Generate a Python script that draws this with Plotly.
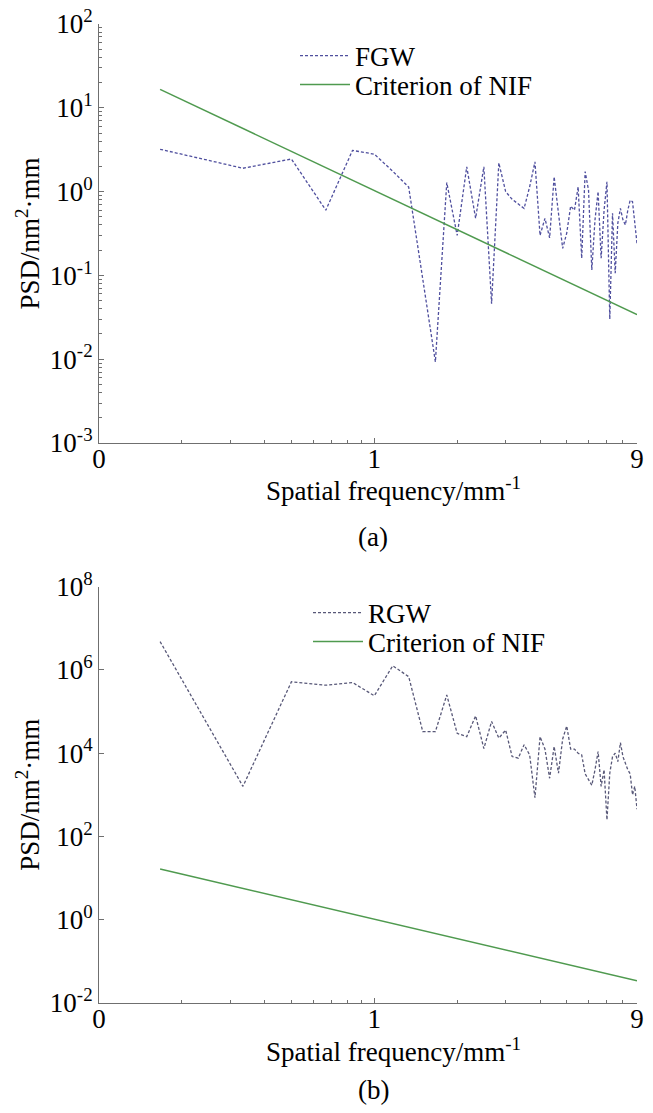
import plotly.graph_objects as go

# ---------------- data ----------------
spatial_freq = [0.1667, 0.3333, 0.5, 0.6667, 0.8333, 1.0, 1.1667, 1.3333, 1.5, 1.6667,
                1.8333, 2.0, 2.1667, 2.3333, 2.5, 2.6667, 2.8333, 3.0, 3.1667, 3.3333,
                3.5, 3.6667, 3.8333, 4.0, 4.1667, 4.3333, 4.5, 4.6667, 4.8333, 5.0,
                5.1667, 5.3333, 5.5, 5.6667, 5.8333, 6.0, 6.1667, 6.3333, 6.5, 6.6667,
                6.8333, 7.0, 7.1667, 7.3333, 7.5, 7.6667, 7.8333, 8.0, 8.1667, 8.3333,
                8.5, 8.6667, 8.8333, 9.0]

fgw_psd = [3.2, 1.9, 2.45, 0.60, 3.1, 2.8, 1.75, 1.13, 0.09, 0.0093,
           1.28, 0.30, 1.98, 0.48, 1.98, 0.046, 2.2, 1.0, 0.81, 0.72,
           0.63, 1.14, 2.27, 0.30, 0.48, 0.28, 1.5, 0.55, 0.21, 0.32,
           0.67, 0.60, 1.14, 0.16, 1.73, 1.04, 0.116, 0.46, 1.0, 0.16,
           0.60, 1.31, 0.030, 0.55, 0.106, 0.42, 0.63, 0.46, 0.40, 0.60,
           0.79, 0.76, 0.46, 0.24]

rgw_psd = [4.8e6, 1.6e3, 5.2e5, 4.3e5, 5.0e5, 2.4e5, 1.26e6, 6.9e5, 3.3e4, 3.3e4,
           2.5e5, 3.0e4, 2.5e4, 7.9e4, 1.3e4, 5.8e4, 2.3e4, 3.6e4, 8.3e3, 7.6e3,
           1.6e4, 9.1e3, 850, 2.5e4, 1.26e4, 2.5e3, 1.45e4, 3.3e3, 2.2e4, 4.5e4,
           1.26e4, 1.26e4, 1.0e4, 9.1e3, 3.2e3, 2.3e3, 1.7e3, 4.0e3, 1.1e4, 1.6e3,
           4.0e3, 250, 3.3e3, 8.3e3, 1.0e4, 6.3e3, 1.8e4, 8.3e3, 5.8e3, 4.0e3,
           3.2e3, 1.0e3, 1.6e3, 450]

nif_freq = [0.1667, 9.0]
nif_psd = [16.6, 0.034]

x_tickvals = [0.1, 1, 9]
x_ticktext = ["0", "1", "9"]
x_minorvals = [0.2, 0.3, 0.4, 0.5, 0.6, 0.7, 0.8, 0.9, 2, 3, 4, 5, 6, 7, 8]

ya_tickvals = [1e-3, 1e-2, 1e-1, 1, 10, 100]
ya_ticktext = ["10<sup>-3</sup>", "10<sup>-2</sup>", "10<sup>-1</sup>",
               "10<sup>0</sup>", "10<sup>1</sup>", "10<sup>2</sup>"]
ya_minorvals = [m * d for d in [1e-3, 1e-2, 1e-1, 1, 10] for m in range(2, 10)]

yb_tickvals = [1e-2, 1, 1e2, 1e4, 1e6, 1e8]
yb_ticktext = ["10<sup>-2</sup>", "10<sup>0</sup>", "10<sup>2</sup>",
               "10<sup>4</sup>", "10<sup>6</sup>", "10<sup>8</sup>"]

# ---------------- styling ----------------
FONT = "Liberation Serif, Times New Roman, serif"
FS = 27
AX = "#6f6f6f"
FGW_C = "#4f4f9e"
RGW_C = "#585878"
NIF_C = "#4f9a4f"
DASH = "3px,2px"

fig = go.Figure()

fig.add_trace(go.Scatter(x=spatial_freq, y=fgw_psd, mode="lines", name="FGW",
                         line=dict(color=FGW_C, width=1.3, dash=DASH),
                         xaxis="x", yaxis="y", legend="legend"))
fig.add_trace(go.Scatter(x=nif_freq, y=nif_psd, mode="lines", name="Criterion of NIF",
                         line=dict(color=NIF_C, width=1.5),
                         xaxis="x", yaxis="y", legend="legend2"))
fig.add_trace(go.Scatter(x=spatial_freq, y=rgw_psd, mode="lines", name="RGW",
                         line=dict(color=RGW_C, width=1.3, dash=DASH),
                         xaxis="x2", yaxis="y2", legend="legend3"))
fig.add_trace(go.Scatter(x=nif_freq, y=nif_psd, mode="lines", name="Criterion of NIF",
                         line=dict(color=NIF_C, width=1.5),
                         xaxis="x2", yaxis="y2", legend="legend4"))

W, H = 653, 1113
ML, MR, MT, MB = 99, 16, 24, 110
PH = H - MT - MB


def py(Y):
    return (H - MB - Y) / PH


def px(X):
    return (X - ML) / (W - ML - MR)


xcommon = dict(type="log", range=[-1, 0.9542], showgrid=False, zeroline=False,
               showline=True, linecolor=AX, linewidth=1, mirror=False, automargin=False,
               ticks="inside", ticklen=5, tickcolor=AX, tickwidth=1, ticklabelstandoff=-8,
               tickmode="array", tickvals=x_tickvals, ticktext=x_ticktext,
               tickfont=dict(family=FONT, size=FS, color="black"),
               minor=dict(tickmode="array", tickvals=x_minorvals, ticks="inside",
                          ticklen=3, tickcolor=AX, tickwidth=1, showgrid=False))

ycommon = dict(type="log", showgrid=False, zeroline=False, showline=True, automargin=False,
               linecolor=AX, linewidth=1, mirror=False, ticks="inside", ticklen=5,
               tickcolor=AX, tickwidth=1, tickmode="array",
               tickfont=dict(family=FONT, size=FS, color="black"),
               title=dict(text="PSD/nm<sup>2</sup>·mm", font=dict(family=FONT, size=FS, color="black"),
                          standoff=2))

legcommon = dict(font=dict(family=FONT, size=FS, color="black"), bgcolor="rgba(0,0,0,0)",
                 borderwidth=0, itemwidth=50, xanchor="left", yanchor="middle",
                 itemclick=False)

fig.update_layout(
    width=W, height=H,
    margin=dict(l=ML, r=MR, t=MT, b=MB, autoexpand=False),
    paper_bgcolor="white", plot_bgcolor="white",
    font=dict(family=FONT, size=FS, color="black"),
    xaxis=dict(xcommon, domain=[0, 1], anchor="y"),
    yaxis=dict(ycommon, domain=[py(443), py(24)], range=[-3, 2], anchor="x",
               tickvals=ya_tickvals, ticktext=ya_ticktext,
               minor=dict(tickmode="array", tickvals=ya_minorvals, ticks="inside",
                          ticklen=3, tickcolor=AX, tickwidth=1, showgrid=False)),
    xaxis2=dict(xcommon, domain=[0, 1], anchor="y2"),
    yaxis2=dict(ycommon, domain=[0, py(586.7)], range=[-2, 8], anchor="x2",
                tickvals=yb_tickvals, ticktext=yb_ticktext),
    legend=dict(legcommon, x=px(295), y=py(56)),
    legend2=dict(legcommon, x=px(295), y=py(85)),
    legend3=dict(legcommon, x=px(308), y=py(613)),
    legend4=dict(legcommon, x=px(308), y=py(642)),
    showlegend=True,
)

annots = [
    dict(text="Spatial frequency/mm<sup>-1</sup>", x=px(393.5), y=py(489)),
    dict(text="(a)", x=px(373), y=py(537)),
    dict(text="Spatial frequency/mm<sup>-1</sup>", x=px(393.5), y=py(1050)),
    dict(text="(b)", x=px(373), y=py(1090)),
]
for a in annots:
    fig.add_annotation(text=a["text"], x=a["x"], y=a["y"], xref="paper", yref="paper",
                       xanchor="center", yanchor="middle", showarrow=False,
                       font=dict(family=FONT, size=FS, color="black"))

fig.write_html("out.html", config={"displayModeBar": False},
               post_script="document.body.style.margin='0';document.body.style.padding='0';")
